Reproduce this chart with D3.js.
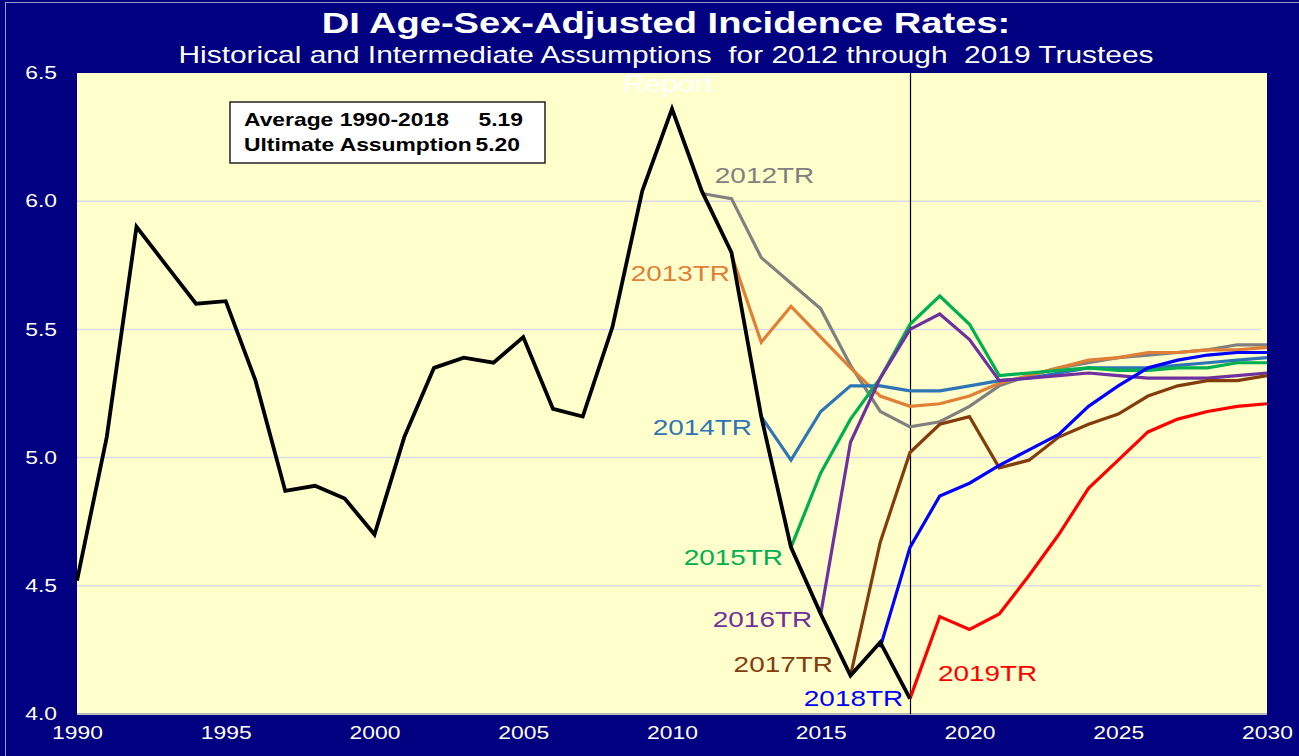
<!DOCTYPE html>
<html>
<head>
<meta charset="utf-8">
<script src="https://cdn.jsdelivr.net/npm/d3@7"></script>
<style>
  body { margin: 0; background: #000080; }
  svg { display: block; font-family: "Liberation Sans", Arial, sans-serif; }
</style>
</head>
<body>
<div id="chart"></div>
<script>
// historical series 1990-2018
var histYears = d3.range(1990, 2019);
var histValues = [4.52, 5.08, 5.90, 5.75, 5.60, 5.61, 5.30, 4.87, 4.89, 4.84, 4.70,
  5.08, 5.35, 5.39, 5.37, 5.47, 5.19, 5.16, 5.51, 6.04, 6.36, 6.04, 5.80, 5.16,
  4.65, 4.39, 4.15, 4.28, 4.06];

// intermediate assumptions per trustees report, each starts one year before the report
var trNames = ["2012TR", "2013TR", "2014TR", "2015TR", "2016TR", "2017TR", "2018TR", "2019TR"];
var trStart = [2011, 2012, 2013, 2014, 2015, 2016, 2017, 2018];
var tr2012 = [6.03, 6.01, 5.78, 5.68, 5.58, 5.36, 5.18, 5.12, 5.14, 5.20, 5.28, 5.32, 5.35, 5.37, 5.39, 5.40, 5.41, 5.42, 5.44, 5.44];
var tr2013 = [5.79, 5.45, 5.59, 5.47, 5.35, 5.24, 5.20, 5.21, 5.24, 5.29, 5.32, 5.35, 5.38, 5.39, 5.41, 5.41, 5.42, 5.42, 5.43];
var tr2014 = [5.16, 4.99, 5.18, 5.28, 5.28, 5.26, 5.26, 5.28, 5.30, 5.31, 5.33, 5.35, 5.35, 5.35, 5.36, 5.37, 5.38, 5.39];
var tr2015 = [4.65, 4.94, 5.15, 5.31, 5.52, 5.63, 5.52, 5.32, 5.33, 5.34, 5.35, 5.34, 5.34, 5.35, 5.35, 5.37, 5.37];
var tr2016 = [4.39, 5.06, 5.31, 5.50, 5.56, 5.46, 5.30, 5.31, 5.32, 5.33, 5.32, 5.31, 5.31, 5.31, 5.32, 5.33];
var tr2017 = [4.15, 4.67, 5.02, 5.13, 5.16, 4.96, 4.99, 5.08, 5.13, 5.17, 5.24, 5.28, 5.30, 5.30, 5.32];
var tr2018 = [4.26, 4.65, 4.85, 4.90, 4.97, 5.03, 5.09, 5.20, 5.28, 5.35, 5.38, 5.40, 5.41, 5.41];
var tr2019 = [4.06, 4.38, 4.33, 4.39, 4.54, 4.70, 4.88, 4.99, 5.10, 5.15, 5.18, 5.20, 5.21];
var trValues = [tr2012, tr2013, tr2014, tr2015, tr2016, tr2017, tr2018, tr2019];
var trColors = ["#808080", "#e07f35", "#2e75b6", "#00b050", "#7030a0", "#843c0c", "#0000ff", "#ff0000"];

// label anchors in data units: [year, value, anchor]
var trLabelPos = [[2011.44, 6.10, "start"], [2011.95, 5.72, "end"], [2012.69, 5.12, "end"],
  [2013.73, 4.61, "end"], [2014.71, 4.37, "end"], [2015.41, 4.195, "end"], [2017.77, 4.06, "end"], [2018.94, 4.16, "start"]];

var xTicks = d3.range(1990, 2031, 5);
var yTicks = [4.0, 4.5, 5.0, 5.5, 6.0, 6.5];

var width = 1299, height = 756;
var plot = { left: 77, right: 1267, top: 73, bottom: 714 };
var SX = 1.27; // text in the original is stretched sideways

// move x/y into a transform so the glyphs can be widened
function stretch(sel, sx) {
  sel.each(function() {
    var t = d3.select(this);
    var tx = +t.attr("x") || 0, ty = +t.attr("y") || 0;
    t.attr("x", 0).attr("y", 0)
      .attr("transform", "translate(" + tx + "," + ty + ") scale(" + sx + ",1)");
  });
}

var svg = d3.select("#chart").append("svg")
  .attr("width", width).attr("height", height);

svg.append("rect").attr("width", width).attr("height", height).attr("fill", "#000080");
svg.append("rect").attr("x", 5.5).attr("y", 2.5).attr("width", width).attr("height", height)
  .attr("fill", "none").attr("stroke", "#9a9ac8").attr("stroke-width", 1);

var x = d3.scaleLinear().domain([1990, 2030]).range([plot.left, plot.right]);
var y = d3.scaleLinear().domain([4.0, 6.5]).range([plot.bottom, plot.top]);

svg.append("rect")
  .attr("x", plot.left).attr("y", plot.top)
  .attr("width", plot.right - plot.left).attr("height", plot.bottom - plot.top)
  .attr("fill", "#ffffcc");

// gridlines
svg.append("g").selectAll("line")
  .data(yTicks.filter(function(d) { return d > 4.0 && d < 6.5 }))
  .enter().append("line")
  .attr("x1", plot.left).attr("x2", plot.right - 6)
  .attr("y1", function(d) { return y(d) }).attr("y2", function(d) { return y(d) })
  .attr("stroke", "#dadae6").attr("stroke-width", 1.5);

svg.append("line")
  .attr("x1", plot.left).attr("x2", plot.right)
  .attr("y1", plot.bottom).attr("y2", plot.bottom)
  .attr("stroke", "#b8b8b8").attr("stroke-width", 2);

// axes
var yAxis = d3.axisLeft(y).tickValues(yTicks).tickFormat(d3.format(".1f")).tickSize(0).tickPadding(20);
svg.append("g").attr("transform", "translate(" + plot.left + ",0)").call(yAxis)
  .call(function(g) { g.select(".domain").remove() })
  .selectAll("text").attr("fill", "#fff").style("font-size", "18px")
  .call(stretch, SX);

var xAxis = d3.axisBottom(x).tickValues(xTicks).tickFormat(d3.format("d")).tickSize(0).tickPadding(12);
svg.append("g").attr("transform", "translate(0," + plot.bottom + ")").call(xAxis)
  .call(function(g) { g.select(".domain").remove() })
  .selectAll("text").attr("fill", "#fff").style("font-size", "18px")
  .call(stretch, SX);

// vertical line at last historical year
svg.append("line")
  .attr("x1", Math.round(x(2018)) + 0.5).attr("x2", Math.round(x(2018)) + 0.5)
  .attr("y1", plot.top).attr("y2", plot.bottom)
  .attr("stroke", "#000").attr("stroke-width", 1.2);

var line = d3.line()
  .x(function(d) { return x(d[0]) })
  .y(function(d) { return y(d[1]) });

trValues.forEach(function(vals, i) {
  var pts = vals.map(function(v, j) { return [trStart[i] + j, v] });
  svg.append("path").datum(pts)
    .attr("d", line)
    .attr("fill", "none")
    .attr("stroke", trColors[i])
    .attr("stroke-width", 3.2);
});

svg.append("path")
  .datum(histYears.map(function(yr, i) { return [yr, histValues[i]] }))
  .attr("d", line)
  .attr("fill", "none")
  .attr("stroke", "#000")
  .attr("stroke-width", 3.8);

// series labels
svg.append("g").selectAll("text")
  .data(trNames)
  .enter().append("text")
  .attr("x", function(d, i) { return x(trLabelPos[i][0]) })
  .attr("y", function(d, i) { return y(trLabelPos[i][1]) })
  .attr("dy", "0.35em")
  .attr("text-anchor", function(d, i) { return trLabelPos[i][2] })
  .attr("fill", function(d, i) { return trColors[i] })
  .style("font-size", "22px")
  .text(function(d) { return d })
  .call(stretch, SX);

// note box
var box = svg.append("g");
box.append("rect")
  .attr("x", 230).attr("y", 102).attr("width", 315).attr("height", 61)
  .attr("fill", "#fff").attr("stroke", "#222").attr("stroke-width", 1.5);
box.append("text").attr("x", 244).attr("y", 126)
  .style("font-size", "18px").style("font-weight", "bold")
  .text("Average 1990-2018").call(stretch, SX);
box.append("text").attr("x", 523).attr("y", 126).attr("text-anchor", "end")
  .style("font-size", "18px").style("font-weight", "bold")
  .text("5.19").call(stretch, SX);
box.append("text").attr("x", 244).attr("y", 151)
  .style("font-size", "18px").style("font-weight", "bold")
  .text("Ultimate Assumption").call(stretch, SX);
box.append("text").attr("x", 520).attr("y", 151).attr("text-anchor", "end")
  .style("font-size", "18px").style("font-weight", "bold")
  .text("5.20").call(stretch, SX);

// titles
svg.append("text")
  .attr("x", 666).attr("y", 33).attr("text-anchor", "middle")
  .attr("fill", "#fff").style("font-size", "30px").style("font-weight", "bold")
  .text("DI Age-Sex-Adjusted Incidence Rates:").call(stretch, 1.27);
svg.append("text")
  .attr("x", 666).attr("y", 63).attr("text-anchor", "middle")
  .attr("fill", "#fff").style("font-size", "23px").attr("xml:space", "preserve")
  .text("Historical and Intermediate Assumptions  for 2012 through  2019 Trustees").call(stretch, 1.3);
svg.append("text")
  .attr("x", 668).attr("y", 92).attr("text-anchor", "middle")
  .attr("fill", "#fff").style("font-size", "23px")
  .text("Report").call(stretch, 1.3);
</script>
</body>
</html>
